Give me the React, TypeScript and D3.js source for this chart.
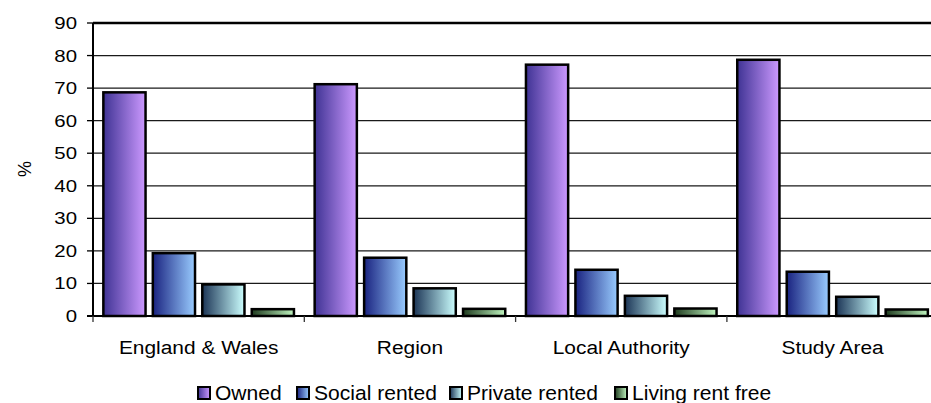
import { useRef, useEffect } from 'react';
import * as d3 from 'd3';

const categories = ['England & Wales', 'Region', 'Local Authority', 'Study Area'];
const seriesNames = ['Owned', 'Social rented', 'Private rented', 'Living rent free'];
const owned = [68.7, 71.2, 77.2, 78.7];
const socialRented = [19.3, 17.9, 14.2, 13.6];
const privateRented = [9.7, 8.5, 6.2, 5.9];
const rentFree = [2.1, 2.2, 2.3, 2.0];
const yTicks = [0, 10, 20, 30, 40, 50, 60, 70, 80, 90];

const gradStops: [string, string][] = [
  ['#3f3394', '#cc99ff'],
  ['#1a2380', '#99ccff'],
  ['#1c3556', '#ccffff'],
  ['#1f3b1f', '#bff5bf'],
];

export default function App() {
  const svgRef = useRef<SVGSVGElement>(null);

  useEffect(() => {
    if (!svgRef.current) return;
    const el = svgRef.current;
    d3.select(el).selectAll('*').remove();
    const svg = d3.select(el);

    const values = [owned, socialRented, privateRented, rentFree];
    const left = 93, top = 23, bottom = 316, catW = 211.3;
    const font = 'Liberation Sans, Arial, sans-serif';

    const defs = svg.append('defs');
    gradStops.forEach(([a, b], i) => {
      const g = defs.append('linearGradient').attr('id', `g${i}`)
        .attr('x1', '0%').attr('x2', '100%').attr('y1', '0%').attr('y2', '0%');
      g.append('stop').attr('offset', '0%').attr('stop-color', a);
      g.append('stop').attr('offset', '100%').attr('stop-color', b);
    });

    const x = d3.scaleBand().domain(categories).range([left, left + catW * 4]).padding(0);
    const xs = d3.scaleBand().domain(seriesNames)
      .range([catW * 0.049, catW * 0.951]).paddingInner(0.147);
    const y = d3.scaleLinear().domain([0, 90]).range([bottom, top]);

    // gridlines
    svg.append('g').selectAll('line').data(yTicks.filter((t) => t > 0 && t < 90)).join('line')
      .attr('x1', left).attr('x2', left + catW * 4)
      .attr('y1', (d) => y(d)).attr('y2', (d) => y(d))
      .attr('stroke', '#1a1a1a').attr('stroke-width', 1.3);
    svg.append('line').attr('x1', left).attr('x2', left + catW * 4)
      .attr('y1', y(90)).attr('y2', y(90)).attr('stroke', '#000').attr('stroke-width', 2.5);

    // bars
    seriesNames.forEach((s, si) => {
      svg.append('g').selectAll('rect').data(values[si]).join('rect')
        .attr('x', (_, i) => (x(categories[i]) ?? 0) + (xs(s) ?? 0))
        .attr('y', (d) => y(d))
        .attr('width', xs.bandwidth())
        .attr('height', (d) => bottom - y(d))
        .attr('fill', `url(#g${si})`)
        .attr('stroke', '#000').attr('stroke-width', 2.5);
    });

    // axes
    svg.append('line').attr('x1', left).attr('x2', left).attr('y1', top).attr('y2', bottom)
      .attr('stroke', '#000').attr('stroke-width', 2);
    svg.append('line').attr('x1', left - 6).attr('x2', left + catW * 4).attr('y1', bottom).attr('y2', bottom)
      .attr('stroke', '#000').attr('stroke-width', 2);
    svg.append('g').selectAll('line').data(yTicks).join('line')
      .attr('x1', left - 6).attr('x2', left).attr('y1', (d) => y(d)).attr('y2', (d) => y(d))
      .attr('stroke', '#000').attr('stroke-width', 1.3);
    svg.append('g').selectAll('line').data(d3.range(5)).join('line')
      .attr('x1', (d) => left + d * catW).attr('x2', (d) => left + d * catW)
      .attr('y1', bottom).attr('y2', bottom + 6)
      .attr('stroke', '#333').attr('stroke-width', 1.3);

    // y tick labels
    svg.append('g').selectAll('text').data(yTicks).join('text')
      .attr('transform', (d) => `translate(77,${y(d) + 6}) scale(1.2,1)`)
      .attr('text-anchor', 'end').attr('font-family', font).attr('font-size', 17)
      .attr('fill', '#000').text((d) => String(d));

    svg.append('text')
      .attr('transform', `translate(31,169) rotate(-90)`)
      .attr('text-anchor', 'middle').attr('font-family', font).attr('font-size', 18)
      .attr('fill', '#000').text('%');

    // category labels
    svg.append('g').selectAll('text').data(categories).join('text')
      .attr('transform', (d) => `translate(${(x(d) ?? 0) + catW / 2},354) scale(1.1,1)`)
      .attr('text-anchor', 'middle').attr('font-family', font).attr('font-size', 19)
      .attr('fill', '#000').text((d) => d);

    // legend
    const legendX = [198, 297, 450, 615];
    seriesNames.forEach((s, i) => {
      const lx = legendX[i];
      svg.append('rect').attr('x', lx).attr('y', 387).attr('width', 12).attr('height', 12)
        .attr('fill', `url(#g${i})`).attr('stroke', '#000').attr('stroke-width', 2);
      svg.append('text')
        .attr('transform', `translate(${lx + 17},400) scale(1.08,1)`)
        .attr('font-family', font).attr('font-size', 19.5).attr('fill', '#000').text(s);
    });
  }, []);

  return (
    <svg ref={svgRef} width={931} height={403}
      style={{ position: 'absolute', left: 0, top: 0, background: '#fff' }} />
  );
}
